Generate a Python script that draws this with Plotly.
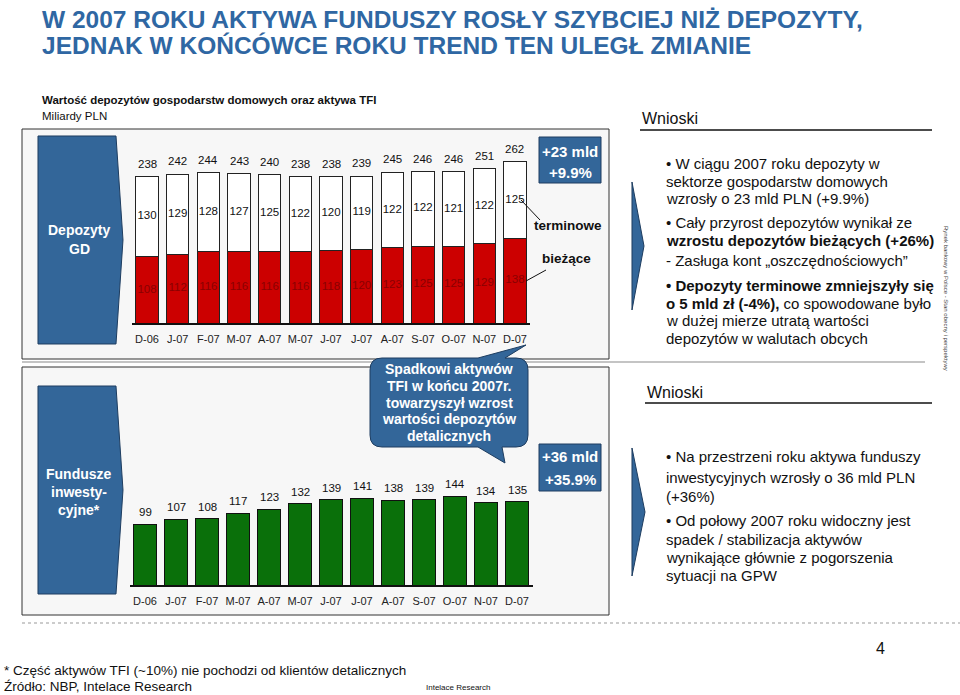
import plotly.graph_objects as go

W, H = 960, 695
FONT = "Liberation Sans, Arial, sans-serif"

# ---------------- data ----------------
months = ["D-06", "J-07", "F-07", "M-07", "A-07", "M-07", "J-07", "J-07",
          "A-07", "S-07", "O-07", "N-07", "D-07"]
dep_biezace = [108, 112, 116, 116, 116, 116, 118, 120, 123, 125, 125, 129, 138]
dep_terminowe = [130, 129, 128, 127, 125, 122, 120, 119, 122, 122, 121, 122, 125]
dep_total = [238, 242, 244, 243, 240, 238, 238, 239, 245, 246, 246, 251, 262]
tfi_assets = [99, 107, 108, 117, 123, 132, 139, 141, 138, 139, 144, 134, 135]

title_lines = ["W 2007 ROKU AKTYWA FUNDUSZY ROSŁY SZYBCIEJ NIŻ DEPOZYTY,",
               "JEDNAK W KOŃCÓWCE ROKU TREND TEN ULEGŁ ZMIANIE"]
chart_title = "Wartość depozytów gospodarstw domowych oraz aktywa TFI"
chart_unit = "Miliardy PLN"
bubble_lines = ["Spadkowi aktywów", "TFI w końcu 2007r.", "towarzyszył wzrost",
                "wartości depozytów", "detalicznych"]
wnioski1 = ["• W ciągu 2007 roku depozyty w",
            "sektorze gospodarstw domowych",
            "wzrosły o 23 mld PLN (+9.9%)",
            "• Cały przyrost depozytów wynikał ze",
            "<b>wzrostu depozytów bieżących (+26%)</b>",
            "- Zasługa kont „oszczędnościowych”",
            "<b>• Depozyty terminowe zmniejszyły się</b>",
            "<b>o 5 mld zł (-4%),</b> co spowodowane było",
            "w dużej mierze utratą wartości",
            "depozytów w walutach obcych"]
wnioski1_y = [163, 181, 199, 223, 241, 260, 285, 303, 321, 339]
wnioski2 = ["• Na przestrzeni roku aktywa funduszy",
            "inwestycyjnych wzrosły o 36 mld PLN",
            "(+36%)",
            "• Od połowy 2007 roku widoczny jest",
            "spadek / stabilizacja aktywów",
            "wynikające głównie z pogorszenia",
            "sytuacji na GPW"]
wnioski2_y = [457, 477, 496, 520, 539, 557, 575]

BLUE = "#336699"
RED = "#cc0000"
GREEN = "#0a700a"


def X(px):
    return px / W


def Y(py):
    return 1 - py / H


def path(points, close=True):
    s = "M " + " L ".join(f"{X(a):.5f},{Y(b):.5f}" for a, b in points)
    return s + (" Z" if close else "")


xs = list(range(len(months)))
fig = go.Figure()

# ---- top chart: deposits ----
fig.add_trace(go.Bar(x=xs, y=dep_biezace, marker=dict(color=RED, line=dict(color="#222", width=1)),
                     xaxis="x", yaxis="y", showlegend=False, hoverinfo="skip"))
fig.add_trace(go.Bar(x=xs, y=dep_terminowe, marker=dict(color="white", line=dict(color="#222", width=1)),
                     xaxis="x", yaxis="y", showlegend=False, hoverinfo="skip"))
fig.add_trace(go.Scatter(x=xs, y=[b / 2 for b in dep_biezace], mode="text",
                         text=[str(v) for v in dep_biezace],
                         textfont=dict(family=FONT, size=11.5, color="#8a0000"),
                         xaxis="x", yaxis="y", showlegend=False, hoverinfo="skip", cliponaxis=False))
fig.add_trace(go.Scatter(x=xs, y=[b + t / 2 for b, t in zip(dep_biezace, dep_terminowe)], mode="text",
                         text=[str(v) for v in dep_terminowe],
                         textfont=dict(family=FONT, size=11.5, color="#111"),
                         xaxis="x", yaxis="y", showlegend=False, hoverinfo="skip", cliponaxis=False))

# ---- bottom chart: TFI ----
fig.add_trace(go.Bar(x=xs, y=tfi_assets, marker=dict(color=GREEN, line=dict(color="#111", width=1)),
                     xaxis="x2", yaxis="y2", showlegend=False, hoverinfo="skip"))

annotations = []
for i, v in enumerate(dep_total):
    annotations.append(dict(x=i, y=v, xref="x", yref="y", text=str(v), showarrow=False,
                            yshift=13, font=dict(family=FONT, size=11.5, color="#111")))
for i, v in enumerate(tfi_assets):
    annotations.append(dict(x=i, y=v, xref="x2", yref="y2", text=str(v), showarrow=False,
                            yshift=12, font=dict(family=FONT, size=11.5, color="#111")))

px_per_unit = 0.615
top_base, top_top = 323, 129
bot_base, bot_top = 585, 368

fig.update_layout(
    width=W, height=H, margin=dict(l=0, r=0, t=0, b=0),
    paper_bgcolor="white", plot_bgcolor="rgba(0,0,0,0)",
    barmode="stack", bargap=0.28,
    xaxis=dict(domain=[X(131.7), X(530.3)], range=[-0.5, 12.5], tickvals=xs, ticktext=months,
               showline=True, linecolor="#111", linewidth=2, showgrid=False, zeroline=False,
               ticks="", ticklabelstandoff=5, tickfont=dict(family=FONT, size=11, color="#222"),
               fixedrange=True),
    yaxis=dict(domain=[Y(top_base), Y(top_top)],
               range=[0, (top_base - top_top) / px_per_unit], visible=False, fixedrange=True),
    xaxis2=dict(domain=[X(129.5), X(532.5)], range=[-0.5, 12.5], tickvals=xs, ticktext=months,
                anchor="y2", showline=True, linecolor="#111", linewidth=2, showgrid=False,
                zeroline=False, ticks="", ticklabelstandoff=5,
                tickfont=dict(family=FONT, size=11, color="#222"), fixedrange=True),
    yaxis2=dict(domain=[Y(bot_base), Y(bot_top)], anchor="x2",
                range=[0, (bot_base - bot_top) / px_per_unit], visible=False, fixedrange=True),
)

shapes = []
# panels
shapes.append(dict(type="rect", xref="paper", yref="paper", x0=X(22), x1=X(609), y0=Y(359), y1=Y(129),
                   fillcolor="#f7f7f7", line=dict(color="#333", width=1), layer="below"))
shapes.append(dict(type="rect", xref="paper", yref="paper", x0=X(22), x1=X(609), y0=Y(615), y1=Y(367),
                   fillcolor="#f7f7f7", line=dict(color="#333", width=1), layer="below"))
shapes.append(dict(type="line", xref="paper", yref="paper", x0=X(22), x1=X(925), y0=Y(362), y1=Y(362),
                   line=dict(color="#b0b0b0", width=1.5)))
# dotted footer line
shapes.append(dict(type="line", xref="paper", yref="paper", x0=X(22), x1=X(960), y0=Y(623), y1=Y(623),
                   line=dict(color="#999", width=1, dash="dot")))
# left chevrons
shapes.append(dict(type="path", xref="paper", yref="paper",
                   path=path([(38, 136), (116, 136), (123, 240), (116, 344), (38, 344)]),
                   fillcolor=BLUE, line=dict(color="#1e3d60", width=1)))
shapes.append(dict(type="path", xref="paper", yref="paper",
                   path=path([(38, 386), (116, 386), (123, 490), (116, 594), (38, 594)]),
                   fillcolor=BLUE, line=dict(color="#1e3d60", width=1)))
# growth boxes
shapes.append(dict(type="rect", xref="paper", yref="paper", x0=X(539), x1=X(601), y0=Y(183), y1=Y(137),
                   fillcolor=BLUE, line=dict(color="#1e3d60", width=1)))
shapes.append(dict(type="rect", xref="paper", yref="paper", x0=X(539), x1=X(601), y0=Y(491), y1=Y(444),
                   fillcolor=BLUE, line=dict(color="#1e3d60", width=1)))
# leader lines
shapes.append(dict(type="line", xref="paper", yref="paper", x0=X(521), y0=Y(200), x1=X(540), y1=Y(220),
                   line=dict(color="#111", width=1)))
shapes.append(dict(type="line", xref="paper", yref="paper", x0=X(526), y0=Y(281), x1=X(546), y1=Y(270),
                   line=dict(color="#111", width=1)))
# speech bubble
r = 12
bx0, by0, bx1, by1 = 370, 358, 528, 447
bub = (f"M {X(bx0 + r):.5f},{Y(by0):.5f} "
       f"L {X(478):.5f},{Y(by0):.5f} L {X(526):.5f},{Y(345):.5f} L {X(505):.5f},{Y(by0):.5f} "
       f"L {X(bx1 - r):.5f},{Y(by0):.5f} "
       f"Q {X(bx1):.5f},{Y(by0):.5f} {X(bx1):.5f},{Y(by0 + r):.5f} "
       f"L {X(bx1):.5f},{Y(by1 - r):.5f} "
       f"Q {X(bx1):.5f},{Y(by1):.5f} {X(bx1 - r):.5f},{Y(by1):.5f} "
       f"L {X(502):.5f},{Y(by1):.5f} L {X(505):.5f},{Y(463):.5f} L {X(478):.5f},{Y(by1):.5f} "
       f"L {X(bx0 + r):.5f},{Y(by1):.5f} "
       f"Q {X(bx0):.5f},{Y(by1):.5f} {X(bx0):.5f},{Y(by1 - r):.5f} "
       f"L {X(bx0):.5f},{Y(by0 + r):.5f} "
       f"Q {X(bx0):.5f},{Y(by0):.5f} {X(bx0 + r):.5f},{Y(by0):.5f} Z")
shapes.append(dict(type="path", xref="paper", yref="paper", path=bub,
                   fillcolor=BLUE, line=dict(color="#1e3d60", width=1)))
# right side: underlines and chevrons
shapes.append(dict(type="line", xref="paper", yref="paper", x0=X(640), x1=X(932), y0=Y(130), y1=Y(130),
                   line=dict(color="#111", width=1.5)))
shapes.append(dict(type="line", xref="paper", yref="paper", x0=X(645), x1=X(932), y0=Y(403), y1=Y(403),
                   line=dict(color="#111", width=1.5)))
shapes.append(dict(type="path", xref="paper", yref="paper",
                   path=path([(632, 182), (644, 246), (632, 310)]),
                   fillcolor=BLUE, line=dict(color="#1e3d60", width=1)))
shapes.append(dict(type="path", xref="paper", yref="paper",
                   path=path([(632, 448), (645, 512), (632, 576)]),
                   fillcolor=BLUE, line=dict(color="#1e3d60", width=1)))


def txt(x, y, s, size, color="#111", bold=False, xanchor="left", angle=0, family=FONT):
    if bold:
        s = f"<b>{s}</b>"
    annotations.append(dict(x=X(x), y=Y(y), xref="paper", yref="paper", text=s, showarrow=False,
                            xanchor=xanchor, yanchor="middle", textangle=angle,
                            font=dict(family=family, size=size, color=color)))


# titles
txt(40, 19, title_lines[0], 24.5, color="#2f67a3", bold=True)
txt(40, 46, title_lines[1], 24.5, color="#2f67a3", bold=True)
txt(40, 100, chart_title, 11.5, bold=True)
txt(40, 116, chart_unit, 11.5)
# chevron labels
txt(79, 230, "Depozyty", 14, color="white", bold=True, xanchor="center")
txt(79, 249, "GD", 14, color="white", bold=True, xanchor="center")
txt(79, 474, "Fundusze", 14, color="white", bold=True, xanchor="center")
txt(79, 492, "inwesty-", 14, color="white", bold=True, xanchor="center")
txt(79, 510, "cyjne*", 14, color="white", bold=True, xanchor="center")
# growth boxes
txt(570, 151, "+23 mld", 15, color="white", bold=True, xanchor="center")
txt(570, 172, "+9.9%", 15, color="white", bold=True, xanchor="center")
txt(570, 457, "+36 mld", 15, color="white", bold=True, xanchor="center")
txt(570, 479, "+35.9%", 15, color="white", bold=True, xanchor="center")
txt(568, 225, "terminowe", 13.5, bold=True, xanchor="center")
txt(566, 258, "bieżące", 13.5, bold=True, xanchor="center")
# bubble
for k, line in enumerate(bubble_lines):
    txt(449, 369 + k * 16.8, line, 14, color="white", bold=True, xanchor="center")
# right side
txt(640, 118, "Wnioski", 16)
txt(645, 392, "Wnioski", 16)
for s, yy in zip(wnioski1, wnioski1_y):
    txt(664, yy, s, 15)
for s, yy in zip(wnioski2, wnioski2_y):
    txt(664, yy, s, 15)
txt(946, 298, "Rynek bankowy w Polsce - Stan obecny i perspektywy", 6, color="#444",
    xanchor="center", angle=90)
# footer
txt(880, 648, "4", 16, xanchor="center")
txt(2, 670, "* Część aktywów TFI (~10%) nie pochodzi od klientów detalicznych", 13.5)
txt(2, 686, "Źródło: NBP, Intelace Research", 13.5)
txt(424, 687, "Intelace Research", 8)

fig.update_layout(shapes=shapes, annotations=annotations)
fig.write_html("out.html", config={"displayModeBar": False})
